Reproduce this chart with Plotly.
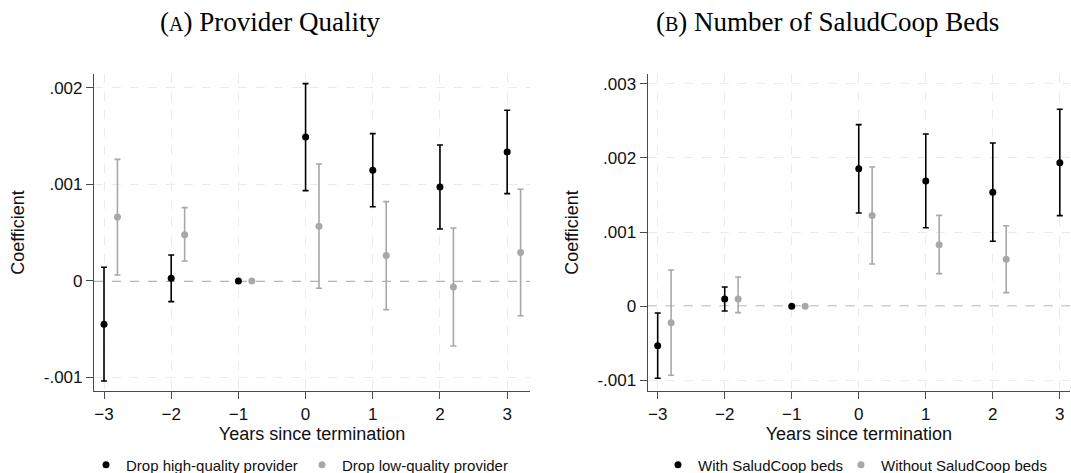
import numpy as np
import plotly.graph_objects as go
from plotly.subplots import make_subplots

# ---------------- data ----------------
years = [-3, -2, -1, 0, 1, 2, 3]

# Panel A: provider quality
high_coef = [-0.000449, 0.000028, 0.0, 0.001492, 0.001147, 0.000974, 0.001337]
high_hi = [0.000142, 0.000270, 0.0, 0.002045, 0.001527, 0.001409, 0.001769]
high_lo = [-0.001036, -0.000214, 0.0, 0.000936, 0.000770, 0.000539, 0.000905]

low_coef = [0.000663, 0.000480, 0.0, 0.000567, 0.000263, -0.000062, 0.000294]
low_hi = [0.001260, 0.000760, 0.0, 0.001212, 0.000822, 0.000549, 0.000950]
low_lo = [0.000062, 0.000207, 0.0, -0.000076, -0.000297, -0.000674, -0.000360]

# Panel B: SaludCoop beds
years_b_without = [-3, -2, -1, 0, 1, 2]
with_coef = [-0.000531, 0.000098, 0.0, 0.001855, 0.001689, 0.001536, 0.001936]
with_hi = [-0.000090, 0.000260, 0.0, 0.002448, 0.002322, 0.002201, 0.002655]
with_lo = [-0.000970, -0.000063, 0.0, 0.001257, 0.001059, 0.000876, 0.001222]

without_coef = [-0.000221, 0.000098, 0.0, 0.001222, 0.000830, 0.000633]
without_hi = [0.000489, 0.000395, 0.0, 0.001877, 0.001226, 0.001086]
without_lo = [-0.000930, -0.000086, 0.0, 0.000570, 0.000440, 0.000184]

ytick_vals_a = [-0.001, 0, 0.001, 0.002]
ytick_text_a = ["-.001", "0", ".001", ".002"]
ytick_vals_b = [-0.001, 0, 0.001, 0.002, 0.003]
ytick_text_b = ["-.001", "0", ".001", ".002", ".003"]
xtick_vals = [-3, -2, -1, 0, 1, 2, 3]

title_a = "(<span style='font-size:20px'>A</span>) Provider Quality"
title_b = "(<span style='font-size:20px'>B</span>) Number of SaludCoop Beds"

# ---------------- style ----------------
BLACK = "#000000"
GRAY = "#a8a8a8"
OFFSET = 0.2
SANS = "Liberation Sans, Arial, sans-serif"
SERIF = "Liberation Serif, Times New Roman, serif"


def err(coef, hi, lo):
    c = np.array(coef, float)
    up = np.array(hi, float) - c
    dn = c - np.array(lo, float)
    zero = (np.abs(up) < 1e-12) & (np.abs(dn) < 1e-12)
    up[zero] = np.nan
    dn[zero] = np.nan
    return up, dn


def ci_trace(x, coef, hi, lo, color, name, legend, thick):
    up, dn = err(coef, hi, lo)
    return go.Scatter(
        x=x, y=coef, mode="markers", name=name, legend=legend,
        marker=dict(color=color, size=7, line=dict(width=0)),
        error_y=dict(type="data", array=up, arrayminus=dn, symmetric=False,
                     color=color, thickness=thick, width=3),
        cliponaxis=False,
    )


fig = make_subplots(rows=1, cols=2)

fig.add_trace(ci_trace(years, high_coef, high_hi, high_lo, BLACK,
                       "Drop high-quality provider", "legend", 1.6), 1, 1)
fig.add_trace(ci_trace([v + OFFSET for v in years], low_coef, low_hi, low_lo, GRAY,
                       "Drop low-quality provider", "legend2", 1.6), 1, 1)
fig.add_trace(ci_trace(years, with_coef, with_hi, with_lo, BLACK,
                       "With SaludCoop beds", "legend3", 1.6), 1, 2)
fig.add_trace(ci_trace([v + OFFSET for v in years_b_without], without_coef, without_hi,
                       without_lo, GRAY, "Without SaludCoop beds", "legend4", 1.6), 1, 2)

W, H = 1071, 473
L, R, T, B = 94, 1, 74, 82
pw = W - L - R
ph = H - T - B

axis_common = dict(
    automargin=False,
    showline=True, linecolor="#4a4a4a", linewidth=1.2, mirror=False,
    ticks="outside", ticklen=7, tickwidth=1.2, tickcolor="#4a4a4a",
    showgrid=True, gridcolor="#ebebeb", griddash="dash", gridwidth=1,
    zeroline=False, tickfont=dict(family=SANS, size=17, color="#111"),
)

fig.update_xaxes(**axis_common, tickvals=xtick_vals,
                 title=dict(text="Years since termination",
                            font=dict(family=SANS, size=18, color="#111"), standoff=4))
fig.update_xaxes(domain=[0, (530 - L) / pw], range=[-3.149, 3.34], row=1, col=1)
fig.update_xaxes(domain=[(647.7 - L) / pw, 1.0], range=[-3.149, 3.152], row=1, col=2)

fig.update_yaxes(**axis_common,
                 title=dict(text="Coefficient",
                            font=dict(family=SANS, size=18, color="#111"), standoff=14))
fig.update_yaxes(range=[-0.00114, 0.002145], tickvals=ytick_vals_a,
                 ticktext=ytick_text_a, row=1, col=1)
fig.update_yaxes(range=[-0.001142, 0.003131], tickvals=ytick_vals_b,
                 ticktext=ytick_text_b, row=1, col=2)

# dashed zero reference lines
for xr, yr in (("x domain", "y"), ("x2 domain", "y2")):
    fig.add_shape(type="line", xref=xr, yref=yr, x0=0, x1=1, y0=0, y1=0,
                  line=dict(color="#9a9a9a", width=1.4, dash="dash"), layer="below")

# panel titles
title_y = 1 + (T - 22) / ph
fig.add_annotation(text=title_a, xref="paper", yref="paper",
                   x=(270 - L) / pw, y=title_y,
                   xanchor="center", yanchor="middle", showarrow=False,
                   font=dict(family=SERIF, size=27, color="#000"))
fig.add_annotation(text=title_b, xref="paper", yref="paper",
                   x=(827 - L) / pw, y=title_y,
                   xanchor="center", yanchor="middle", showarrow=False,
                   font=dict(family=SERIF, size=27, color="#000"))

leg_font = dict(family=SANS, size=15, color="#111")
leg_y = -(465 - (H - B)) / ph


def leg(px_left):
    return dict(orientation="h", x=(px_left - L) / pw, y=leg_y,
                xanchor="left", yanchor="middle", font=leg_font,
                itemwidth=30, bgcolor="rgba(0,0,0,0)")


fig.update_layout(
    width=W, height=H,
    margin=dict(l=L, r=R, t=T, b=B, autoexpand=False),
    plot_bgcolor="white", paper_bgcolor="white",
    legend=leg(86), legend2=leg(302), legend3=leg(658), legend4=leg(841),
    showlegend=True,
)

fig.write_html(
    "out.html",
    config={"displayModeBar": False},
    post_script="document.body.style.margin='0';document.body.style.overflow='hidden';",
)
